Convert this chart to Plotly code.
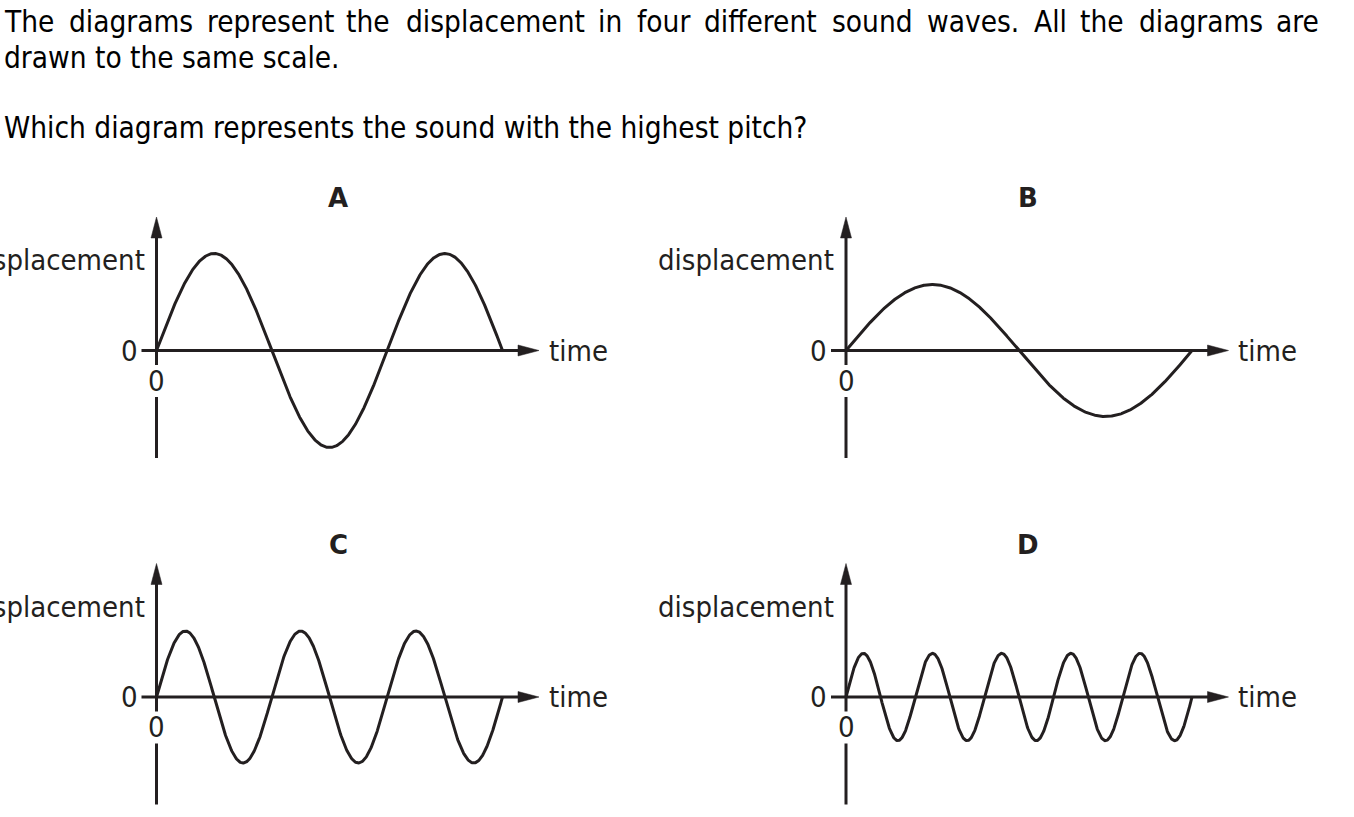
import numpy as np
import plotly.graph_objects as go

# ---------------- data ----------------
panel_labels = ["A", "B", "C", "D"]
amplitudes = [1.00, 0.68, 0.68, 0.45]      # peak displacement, same scale in every diagram
cycles = [1.5, 1.0, 3.0, 5.0]              # oscillations shown over the same time span
time_start, time_end = 0.0, 1.0
y_axis_label = "displacement"
x_axis_label = "time"
origin_label = "0"

question_line1_words = ["The", "diagrams", "represent", "the", "displacement", "in",
                        "four", "different", "sound", "waves.", "All", "the",
                        "diagrams", "are"]
question_line2 = "drawn to the same scale."
question_line3 = "Which diagram represents the sound with the highest pitch?"

# ---------------- layout (pixels) ----------------
W, H = 1354, 817
INK = "#231f20"
FONT = "DejaVu Sans Condensed, DejaVu Sans, sans-serif"
BOLD_FONT = "DejaVu Sans, Verdana, sans-serif"
LABEL_SIZE = 29
QUESTION_SIZE = 29.5
# left edges of the justified first line
line1_word_x = [3, 68, 206, 345, 405, 597, 635.5, 702.5, 830.5, 926, 1032.5, 1079, 1138, 1275]
line_y = [22, 58, 128]
origins = [(156.5, 350.5), (846, 350.5), (156.5, 697), (846, 697)]
panel_boxes = [(0, 680, 170, 482), (640, 1354, 170, 482),
               (0, 680, 515, 817), (640, 1354, 515, 817)]
PX_PER_TIME = 346.0
PX_PER_DISP = 97.0

fig = go.Figure()
shapes = []
annotations = []

for i, (lab, amp, cyc) in enumerate(zip(panel_labels, amplitudes, cycles)):
    n = i + 1
    xr, yr = f"x{n}", f"y{n}"
    ox, oy = origins[i]
    left, right, top, bottom = panel_boxes[i]

    def dx(px, ox=ox):
        return (px - ox) / PX_PER_TIME

    def dy(py, oy=oy):
        return (oy - py) / PX_PER_DISP

    fig.update_layout(**{
        f"xaxis{n}": dict(domain=[left / W, right / W], range=[dx(left), dx(right)],
                          visible=False, fixedrange=True, anchor=yr),
        f"yaxis{n}": dict(domain=[1 - bottom / H, 1 - top / H], range=[dy(bottom), dy(top)],
                          visible=False, fixedrange=True, anchor=xr),
    })

    # the wave
    t = np.linspace(time_start, time_end, 800)
    disp = amp * np.sin(2 * np.pi * cyc * (t - time_start) / (time_end - time_start))
    fig.add_trace(go.Scatter(x=t, y=disp, mode="lines", xaxis=xr, yaxis=yr,
                             line=dict(color=INK, width=3), hoverinfo="skip",
                             showlegend=False))

    line_style = dict(color=INK, width=3)
    # horizontal axis (time)
    tip_x = dx(ox + 382.5)
    shapes.append(dict(type="line", xref=xr, yref=yr, x0=dx(ox - 15), x1=dx(ox + 372),
                       y0=0, y1=0, line=line_style, layer="below"))
    shapes.append(dict(type="path", xref=xr, yref=yr, xsizemode="pixel", ysizemode="pixel",
                       xanchor=tip_x, yanchor=0, path="M0,0 L-21,5.5 L-21,-5.5 Z",
                       fillcolor=INK, line=dict(color=INK, width=0.5)))
    # vertical axis (displacement), with a gap for the "0" under the origin
    tip_y = dy(oy - 133.5)
    shapes.append(dict(type="line", xref=xr, yref=yr, x0=0, x1=0,
                       y0=dy(oy + 14.5), y1=dy(oy - 123), line=line_style, layer="below"))
    shapes.append(dict(type="line", xref=xr, yref=yr, x0=0, x1=0,
                       y0=dy(oy + 46.5), y1=dy(oy + 107.5), line=line_style, layer="below"))
    shapes.append(dict(type="path", xref=xr, yref=yr, xsizemode="pixel", ysizemode="pixel",
                       xanchor=0, yanchor=tip_y, path="M0,0 L-5.5,-21 L5.5,-21 Z",
                       fillcolor=INK, line=dict(color=INK, width=0.5)))

    txt = dict(family=FONT, size=LABEL_SIZE, color=INK)
    annotations += [
        dict(xref=xr, yref=yr, x=dx(ox - 27.5), y=0, text=origin_label, showarrow=False,
             xanchor="center", yanchor="middle", font=txt),
        dict(xref=xr, yref=yr, x=0, y=dy(oy + 30), text=origin_label, showarrow=False,
             xanchor="center", yanchor="middle", font=txt),
        dict(xref=xr, yref=yr, x=dx(ox - 10), y=dy(oy - 90.5), text=y_axis_label,
             showarrow=False, xanchor="right", yanchor="middle", font=txt),
        dict(xref=xr, yref=yr, x=dx(ox + 390), y=0, text=x_axis_label, showarrow=False,
             xanchor="left", yanchor="middle", font=txt),
        dict(xref=xr, yref=yr, x=dx(ox + 181.5), y=dy(oy - 152.5), text=f"<b>{lab}</b>",
             showarrow=False, xanchor="center", yanchor="middle",
             font=dict(family=BOLD_FONT, size=26, color=INK)),
    ]

# question text
qfont = dict(family=FONT, size=QUESTION_SIZE, color="#000000")
for word, wx in zip(question_line1_words, line1_word_x):
    annotations.append(dict(xref="paper", yref="paper", x=wx / W, y=1 - line_y[0] / H,
                            text=word, showarrow=False, xanchor="left", yanchor="middle",
                            font=qfont, borderpad=0))
for text, ly in ((question_line2, line_y[1]), (question_line3, line_y[2])):
    annotations.append(dict(xref="paper", yref="paper", x=3 / W, y=1 - ly / H,
                            text=text, showarrow=False, xanchor="left", yanchor="middle",
                            font=qfont, borderpad=0))

fig.update_layout(width=W, height=H, margin=dict(l=0, r=0, t=0, b=0),
                  paper_bgcolor="white", plot_bgcolor="rgba(0,0,0,0)",
                  shapes=shapes, annotations=annotations, showlegend=False)

fig.write_html("out.html", config={"displayModeBar": False},
               post_script="document.body.style.margin='0px';")
